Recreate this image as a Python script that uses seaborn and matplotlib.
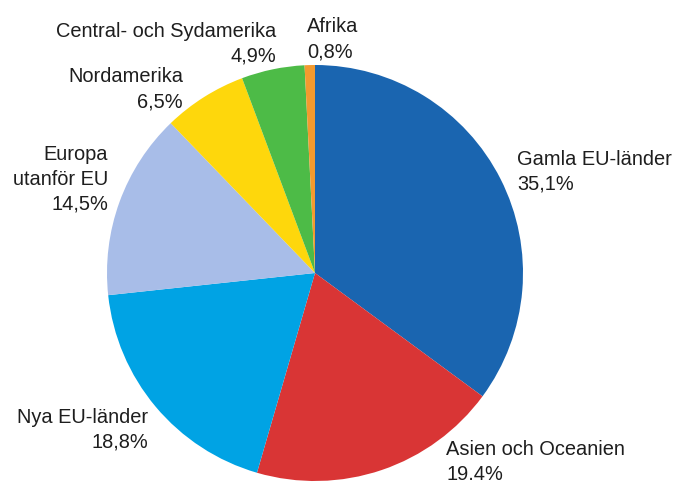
import matplotlib
matplotlib.use('Agg')
import matplotlib.pyplot as plt
import seaborn as sns

# Data (share of total, %)
regions = ['Gamla EU-länder', 'Asien och Oceanien', 'Nya EU-länder',
           'Europa\nutanför EU', 'Nordamerika', 'Central- och Sydamerika', 'Afrika']
shares = [35.1, 19.4, 18.8, 14.5, 6.5, 4.9, 0.8]
share_text = ['35,1%', '19.4%', '18,8%', '14,5%', '6,5%', '4,9%', '0,8%']

colors = ['#1a65b0', '#d93535', '#00a3e4', '#a8bde8', '#fed70c', '#4dbb47', '#f39a2f']

# label anchor (x, first baseline y, alignment) in pixel coords
label_pos = [(517, 165, 'left'), (446, 455, 'left'), (148, 423, 'right'),
             (108, 160, 'right'), (183, 82, 'right'), (276, 37, 'right'),
             (307, 32, 'left')]

sns.set_theme(style='white')
plt.rcParams['font.family'] = ['Liberation Sans', 'DejaVu Sans']

W, H = 676, 484
fig = plt.figure(figsize=(W / 100, H / 100), dpi=100)
ax = fig.add_axes([0, 0, 1, 1])

# y axis is inverted, so start at -90 and go counterclockwise in data space
ax.pie(shares, colors=colors, startangle=-90, counterclock=True,
       center=(315, 273), radius=208, frame=True,
       wedgeprops=dict(linewidth=0))
ax.set_xlim(0, W)
ax.set_ylim(H, 0)
ax.set_aspect('equal')
ax.axis('off')

step = 25
for name, pct, (x, y, ha) in zip(regions, share_text, label_pos):
    lines = name.split('\n') + [pct]
    for i, line in enumerate(lines):
        ax.text(x, y + i * step, line, ha=ha, va='baseline',
                fontsize=14.4, color='#1e1e1e')

fig.savefig('out.png', dpi=100)
